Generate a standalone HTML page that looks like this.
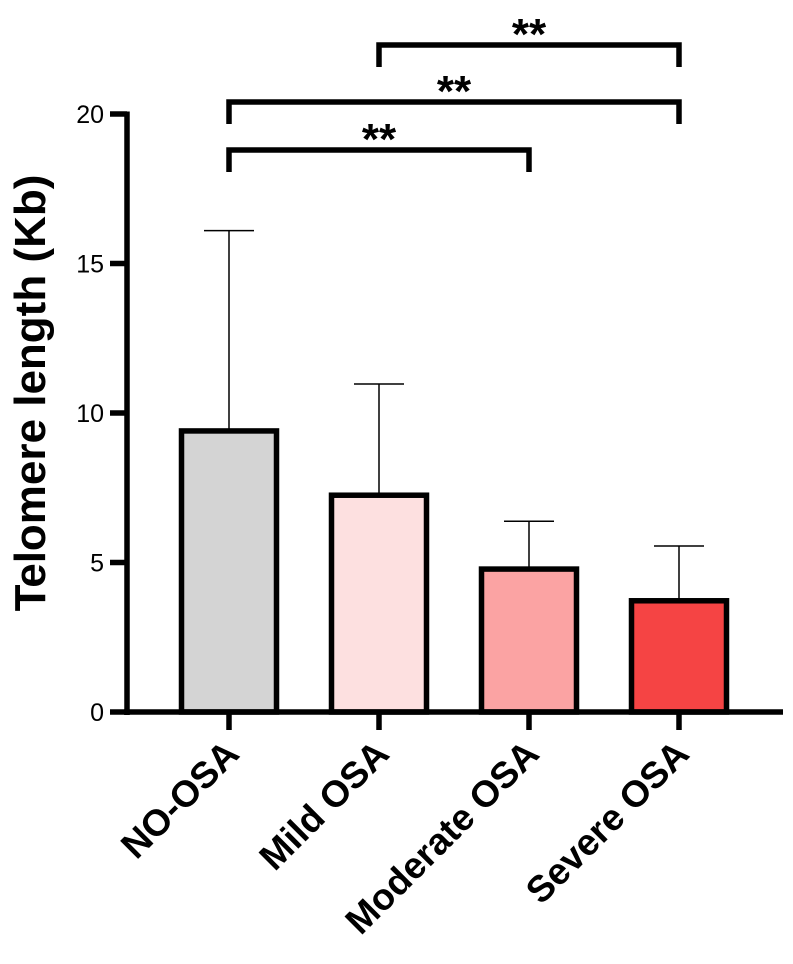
<!DOCTYPE html>
<html><head><meta charset="utf-8"><style>
html,body{margin:0;padding:0;background:#fff;}
svg{display:block;font-family:"Liberation Sans",Arial,sans-serif;}
</style></head><body>
<svg id="chart" width="793" height="964" xmlns="http://www.w3.org/2000/svg"></svg>
<script>
const categories = ["NO-OSA","Mild OSA","Moderate OSA","Severe OSA"];
const means = [9.4, 7.25, 4.78, 3.72];
const errors = [6.7, 3.72, 1.6, 1.83];
const colors = ["#d4d4d4","#fde0e0","#fba3a3","#f54444"];
const yTicks = [0,5,10,15,20];
const comparisons = [[0,2,"**"],[0,3,"**"],[1,3,"**"]];

const svg = document.getElementById('chart');
const NS = "http://www.w3.org/2000/svg";
function y(v){ return 712 - v*29.9; }
function xc(i){ return 229 + i*150; }
const bw = 95;
const SW = 5.5;
function mk(tag, attrs, parent){
  const e = document.createElementNS(NS, tag);
  for (const k in attrs) e.setAttribute(k, attrs[k]);
  (parent||svg).appendChild(e);
  return e;
}
let e = mk('line',{x1:127,y1:y(20)-2.5,x2:127,y2:715,stroke:'#000','stroke-width':SW});


yTicks.forEach(t=>{
  const l = mk('line',{x1:110,y1:y(t),x2:127,y2:y(t),stroke:'#000','stroke-width':SW});
  
  
  const tx = mk('text',{x:104,y:y(t)+9,'text-anchor':'end','font-size':25});
  tx.textContent = t;
  
  
});
e = mk('text',{x:0,y:0,transform:'translate(45,393) rotate(-90)','text-anchor':'middle','font-size':44,'font-weight':'bold'});
e.textContent = 'Telomere length (Kb)';


categories.forEach((c,i)=>{
  const x = xc(i);
  const el = mk('line',{x1:x,y1:y(means[i]),x2:x,y2:y(means[i]+errors[i]),stroke:'#000','stroke-width':1.5});
  
  
  const cap = mk('line',{x1:x-25,y1:y(means[i]+errors[i]),x2:x+25,y2:y(means[i]+errors[i]),stroke:'#000','stroke-width':1.5});
  
  
  const r = mk('rect',{x:x-bw/2,y:y(means[i]),width:bw,height:y(0)-y(means[i]),fill:colors[i],stroke:'#000','stroke-width':SW});
  
  
  const tk = mk('line',{x1:x,y1:712,x2:x,y2:730,stroke:'#000','stroke-width':SW});
  
  
  const t = mk('text',{x:0,y:0,transform:`translate(${x+12},756) rotate(-45)`,'text-anchor':'end','font-size':37,'font-weight':'bold'});
  t.textContent = c;
  
  
});
e = mk('line',{x1:124,y1:712,x2:783,y2:712,stroke:'#000','stroke-width':SW});


const brY = [150,102,45];
comparisons.forEach((cmp,k)=>{
  const x1 = xc(cmp[0]), x2 = xc(cmp[1]), by = brY[k];
  const p = mk('path',{d:`M${x1},${by+22} V${by} H${x2} V${by+22}`,fill:'none',stroke:'#000','stroke-width':SW});
  
  
  const t = mk('text',{x:(x1+x2)/2,y:by+4,'text-anchor':'middle','font-size':44,'font-weight':'bold'});
  t.textContent = cmp[2];
  
  
});
</script>
</body></html>
